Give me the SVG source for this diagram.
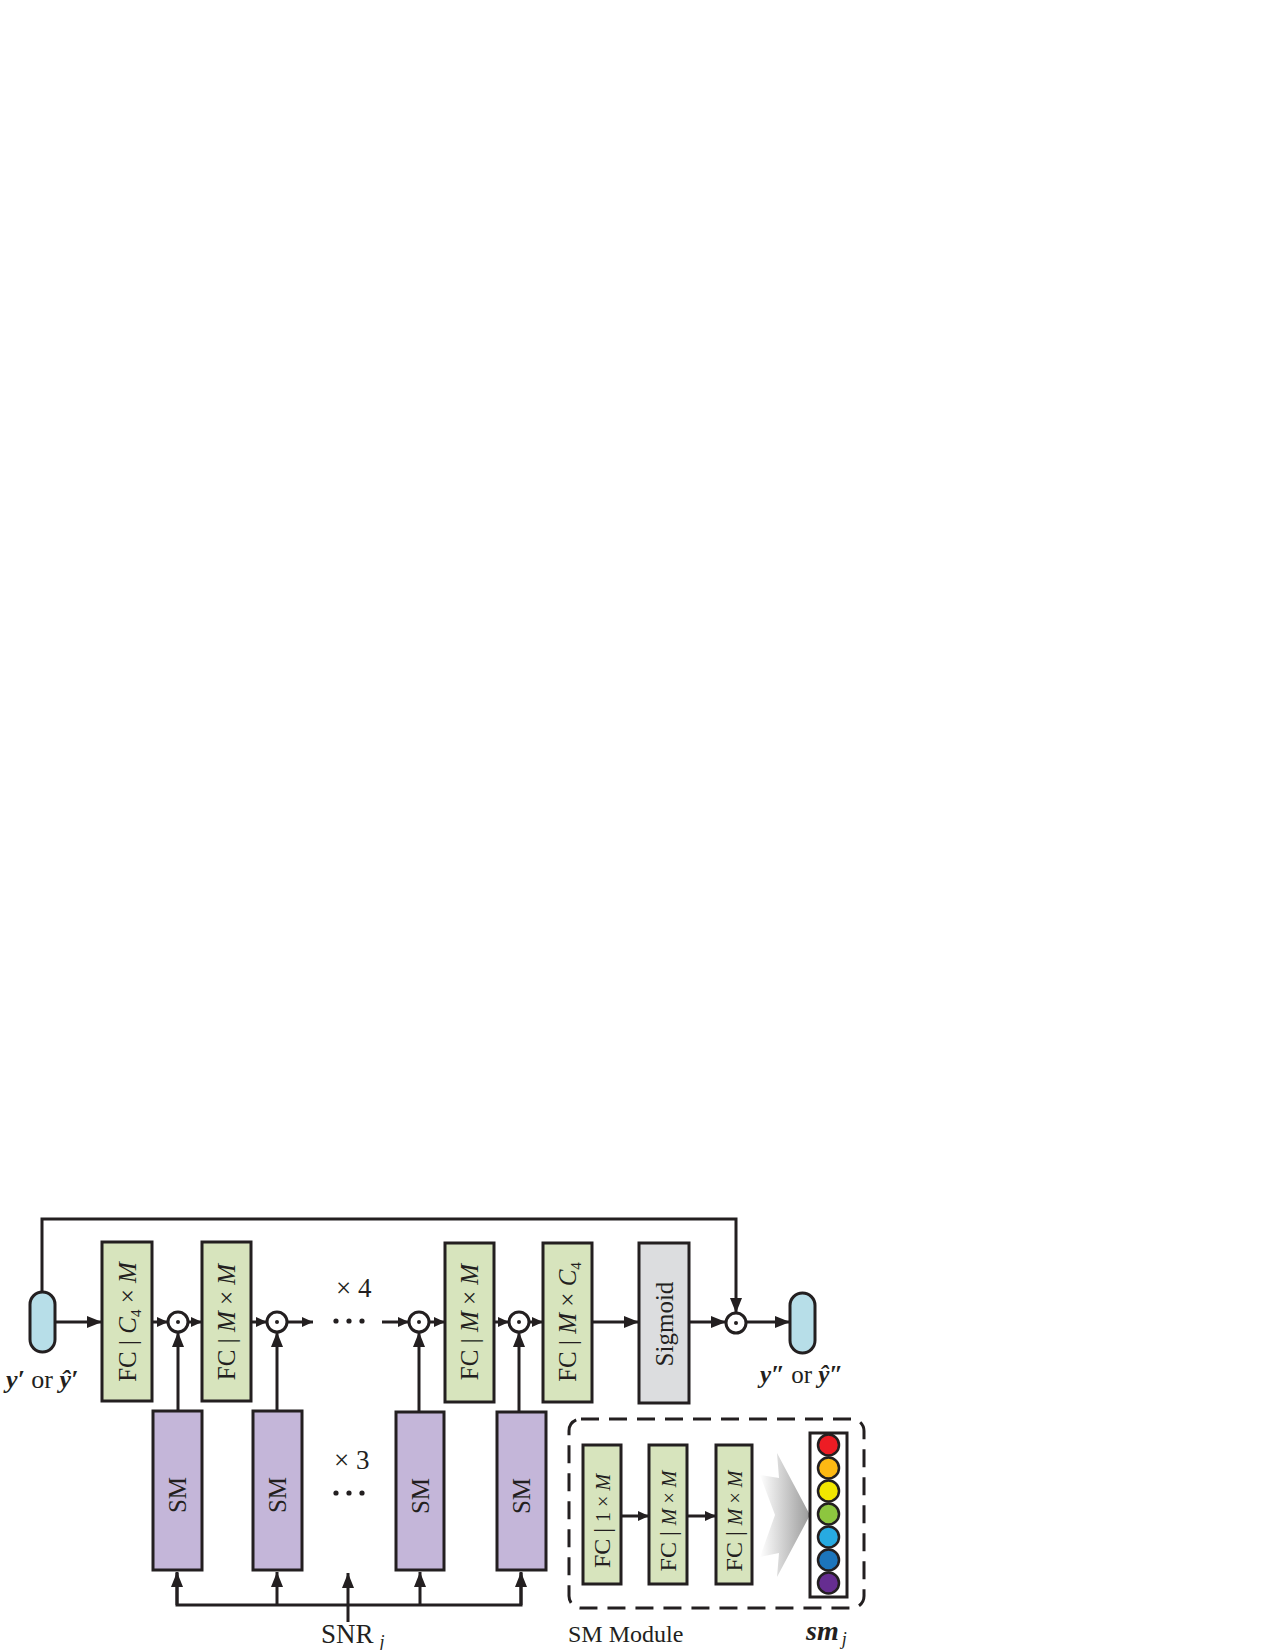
<svg xmlns="http://www.w3.org/2000/svg" width="1275" height="1650" viewBox="0 0 1275 1650">
<style>
.ln{fill:none;stroke:#231F20;stroke-width:3}
.fc{fill:#D7E4BD;stroke:#231F20;stroke-width:3}
.sm{fill:#C4B6D9;stroke:#231F20;stroke-width:3}
.sg{fill:#DCDDDF;stroke:#231F20;stroke-width:3}
.cap{fill:#B7DEE8;stroke:#231F20;stroke-width:3}
.op{fill:#fff;stroke:#231F20;stroke-width:3}
.dot{fill:#231F20}
.t{font-family:"Liberation Serif","DejaVu Serif",serif;fill:#231F20}
.it{font-style:italic}
.bi{font-style:italic;font-weight:bold}
.cc{stroke:#231F20;stroke-width:2.5}
</style>
<defs>
<marker id="ah" markerUnits="userSpaceOnUse" markerWidth="15" markerHeight="12" refX="15" refY="6" orient="auto"><path d="M0,0 L15,6 L0,12 z" fill="#231F20"/></marker>
<marker id="as" markerUnits="userSpaceOnUse" markerWidth="11" markerHeight="10" refX="11" refY="5" orient="auto"><path d="M0,0 L11,5 L0,10 z" fill="#231F20"/></marker>
<linearGradient id="gr" x1="0" y1="0" x2="1" y2="0"><stop offset="0" stop-color="#ffffff"/><stop offset="1" stop-color="#9a9a9a"/></linearGradient>
</defs>

<g id="connectors">
<path class="ln" d="M42,1292 V1219 H736 V1313" marker-end="url(#ah)"/>
<line class="ln" x1="55" y1="1322" x2="102" y2="1322" marker-end="url(#ah)"/>
<line class="ln" x1="152" y1="1322" x2="168" y2="1322" marker-end="url(#as)"/>
<line class="ln" x1="188" y1="1322" x2="202" y2="1322" marker-end="url(#as)"/>
<line class="ln" x1="251" y1="1322" x2="267" y2="1322" marker-end="url(#as)"/>
<line class="ln" x1="287" y1="1322" x2="313" y2="1322" marker-end="url(#as)"/>
<line class="ln" x1="382" y1="1322" x2="409" y2="1322" marker-end="url(#as)"/>
<line class="ln" x1="429" y1="1322" x2="445" y2="1322" marker-end="url(#as)"/>
<line class="ln" x1="494" y1="1322" x2="509" y2="1322" marker-end="url(#as)"/>
<line class="ln" x1="529" y1="1322" x2="543" y2="1322" marker-end="url(#as)"/>
<line class="ln" x1="592" y1="1322" x2="639" y2="1322" marker-end="url(#ah)"/>
<line class="ln" x1="689" y1="1322" x2="726" y2="1322" marker-end="url(#ah)"/>
<line class="ln" x1="746" y1="1322" x2="790" y2="1322" marker-end="url(#ah)"/>
<line class="ln" x1="178" y1="1411" x2="178" y2="1332" marker-end="url(#ah)"/>
<line class="ln" x1="277" y1="1411" x2="277" y2="1332" marker-end="url(#ah)"/>
<line class="ln" x1="419" y1="1412" x2="419" y2="1332" marker-end="url(#ah)"/>
<line class="ln" x1="519" y1="1412" x2="519" y2="1332" marker-end="url(#ah)"/>
<path class="ln" d="M177,1573 V1605 H521 V1573"/>
<line class="ln" x1="177" y1="1605" x2="177" y2="1572" marker-end="url(#ah)"/>
<line class="ln" x1="277" y1="1605" x2="277" y2="1572" marker-end="url(#ah)"/>
<line class="ln" x1="420" y1="1605" x2="420" y2="1572" marker-end="url(#ah)"/>
<line class="ln" x1="521" y1="1605" x2="521" y2="1572" marker-end="url(#ah)"/>
<line class="ln" x1="348" y1="1622" x2="348" y2="1573" marker-end="url(#ah)"/>
<line class="ln" x1="621" y1="1516" x2="649" y2="1516" marker-end="url(#as)"/>
<line class="ln" x1="687" y1="1516" x2="716" y2="1516" marker-end="url(#as)"/>
</g>

<g id="input">
<rect class="cap" x="30" y="1292" width="25" height="60" rx="12.5"/>
<text class="t" x="6" y="1388" font-size="26"><tspan class="bi">y′</tspan> or <tspan class="bi">ŷ′</tspan></text>
</g>

<g id="fc1">
<rect class="fc" x="102" y="1242" width="50" height="159"/>
<text class="t" x="127" y="1322" font-size="25" text-anchor="middle" dy="0.35em" transform="rotate(-90 127 1322)">FC | <tspan class="it">C</tspan><tspan font-size="15" dy="5">4</tspan><tspan dy="-5"> × </tspan><tspan class="it">M</tspan></text>
</g>
<g id="mul1"><circle class="op" cx="178" cy="1322" r="10"/><circle class="dot" cx="178" cy="1322" r="2"/></g>
<g id="fc2">
<rect class="fc" x="202" y="1242" width="49" height="159"/>
<text class="t" x="226.5" y="1322" font-size="25" text-anchor="middle" dy="0.35em" transform="rotate(-90 226.5 1322)">FC | <tspan class="it">M</tspan> × <tspan class="it">M</tspan></text>
</g>
<g id="mul2"><circle class="op" cx="277" cy="1322" r="10"/><circle class="dot" cx="277" cy="1322" r="2"/></g>

<g id="repeat4">
<text class="t" x="336" y="1297" font-size="27">× 4</text>
<circle class="dot" cx="336" cy="1321" r="2.6"/><circle class="dot" cx="349" cy="1321" r="2.6"/><circle class="dot" cx="362" cy="1321" r="2.6"/>
</g>

<g id="mul3"><circle class="op" cx="419" cy="1322" r="10"/><circle class="dot" cx="419" cy="1322" r="2"/></g>
<g id="fc3">
<rect class="fc" x="445" y="1243" width="49" height="159"/>
<text class="t" x="469.5" y="1322" font-size="25" text-anchor="middle" dy="0.35em" transform="rotate(-90 469.5 1322)">FC | <tspan class="it">M</tspan> × <tspan class="it">M</tspan></text>
</g>
<g id="mul4"><circle class="op" cx="519" cy="1322" r="10"/><circle class="dot" cx="519" cy="1322" r="2"/></g>
<g id="fc4">
<rect class="fc" x="543" y="1243" width="49" height="159"/>
<text class="t" x="567.5" y="1322" font-size="25" text-anchor="middle" dy="0.35em" transform="rotate(-90 567.5 1322)">FC | <tspan class="it">M</tspan> × <tspan class="it">C</tspan><tspan font-size="15" dy="5">4</tspan></text>
</g>
<g id="sigmoid">
<rect class="sg" x="639" y="1243" width="50" height="160"/>
<text class="t" x="664" y="1324" font-size="25" text-anchor="middle" dy="0.35em" transform="rotate(-90 664 1324)">Sigmoid</text>
</g>
<g id="mul5"><circle class="op" cx="736" cy="1323" r="10"/><circle class="dot" cx="736" cy="1323" r="2"/></g>
<g id="output">
<rect class="cap" x="790" y="1293" width="25" height="60" rx="12.5"/>
<text class="t" x="760" y="1383" font-size="25"><tspan class="bi">y″</tspan> or <tspan class="bi">ŷ″</tspan></text>
</g>

<g id="sm1"><rect class="sm" x="153" y="1411" width="49" height="159"/>
<text class="t" x="177.5" y="1495" font-size="25" text-anchor="middle" dy="0.35em" transform="rotate(-90 177.5 1495)">SM</text></g>
<g id="sm2"><rect class="sm" x="253" y="1411" width="49" height="159"/>
<text class="t" x="277.5" y="1495" font-size="25" text-anchor="middle" dy="0.35em" transform="rotate(-90 277.5 1495)">SM</text></g>
<g id="repeat3">
<text class="t" x="334" y="1469" font-size="27">× 3</text>
<circle class="dot" cx="336" cy="1493" r="2.6"/><circle class="dot" cx="349" cy="1493" r="2.6"/><circle class="dot" cx="362" cy="1493" r="2.6"/>
</g>
<g id="sm3"><rect class="sm" x="396" y="1412" width="48" height="158"/>
<text class="t" x="420" y="1496" font-size="25" text-anchor="middle" dy="0.35em" transform="rotate(-90 420 1496)">SM</text></g>
<g id="sm4"><rect class="sm" x="497" y="1412" width="49" height="158"/>
<text class="t" x="521.5" y="1496" font-size="25" text-anchor="middle" dy="0.35em" transform="rotate(-90 521.5 1496)">SM</text></g>

<g id="snr">
<text class="t" x="321" y="1643" font-size="27">SNR<tspan class="it" font-size="18" dx="6" dy="5">j</tspan></text>
</g>

<g id="sm-module">
<rect x="569" y="1419" width="295" height="189" rx="12" fill="none" stroke="#231F20" stroke-width="3" stroke-dasharray="18 10"/>
<g id="sma"><rect class="fc" x="583" y="1445" width="38" height="139"/>
<text class="t" x="602" y="1521" font-size="24" text-anchor="middle" dy="0.35em" transform="rotate(-90 602 1521)">FC | <tspan font-size="20">1 × <tspan class="it">M</tspan></tspan></text></g>
<g id="smb"><rect class="fc" x="649" y="1445" width="38" height="139"/>
<text class="t" x="668" y="1521" font-size="24" text-anchor="middle" dy="0.35em" transform="rotate(-90 668 1521)">FC | <tspan font-size="20"><tspan class="it">M</tspan> × <tspan class="it">M</tspan></tspan></text></g>
<g id="smc"><rect class="fc" x="716" y="1445" width="36" height="139"/>
<text class="t" x="734" y="1521" font-size="24" text-anchor="middle" dy="0.35em" transform="rotate(-90 734 1521)">FC | <tspan font-size="20"><tspan class="it">M</tspan> × <tspan class="it">M</tspan></tspan></text></g>
<path d="M777,1453 L810,1515 L777,1577 L779,1553 L760,1557 L775,1515 L760,1475 L779,1478 Z" fill="url(#gr)"/>
<g id="smj-vector">
<rect x="810" y="1433" width="37" height="164" fill="#fff" stroke="#231F20" stroke-width="3"/>
<circle class="cc" cx="828.5" cy="1445" r="10.5" fill="#ED1C24"/>
<circle class="cc" cx="828.5" cy="1468" r="10.5" fill="#FDB913"/>
<circle class="cc" cx="828.5" cy="1491" r="10.5" fill="#F2E600"/>
<circle class="cc" cx="828.5" cy="1514" r="10.5" fill="#8DC63F"/>
<circle class="cc" cx="828.5" cy="1537" r="10.5" fill="#27AAE1"/>
<circle class="cc" cx="828.5" cy="1560" r="10.5" fill="#1C75BC"/>
<circle class="cc" cx="828.5" cy="1583" r="10.5" fill="#662D91"/>
</g>
<text class="t" x="568" y="1642" font-size="24">SM Module</text>
<text class="t" x="806" y="1640" font-size="28"><tspan class="bi">sm</tspan><tspan class="it" font-size="18" dx="3" dy="5">j</tspan></text>
</g>
</svg>
